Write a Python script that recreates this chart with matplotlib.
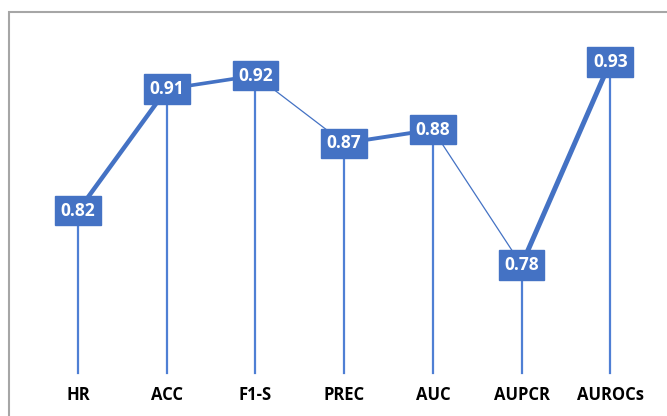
import matplotlib.pyplot as plt
from matplotlib.patches import Rectangle

metrics = ["HR", "ACC", "F1-S", "PREC", "AUC", "AUPCR", "AUROCs"]
scores = [0.82, 0.91, 0.92, 0.87, 0.88, 0.78, 0.93]

BLUE = "#4472C4"
BASE = 0.70
# stroke width of each connecting segment
seg_widths = [3.2, 2.6, 0.9, 2.8, 0.9, 3.6]

fig = plt.figure(figsize=(6.67, 4.16), dpi=100)
ax = fig.add_axes([0, 0, 1, 1])
ax.set_xlim(-0.88, 6.64)
ax.set_ylim(0.6684, 0.9758)
ax.axis("off")

# outer frame, open to the right and bottom
fig.patches.append(Rectangle((9 / 667, -0.1), 1.2, 1.1 - 12 / 416,
                             transform=fig.transFigure, fill=False,
                             edgecolor="#A6A6A6", linewidth=1.5))

x = list(range(len(metrics)))

# drop lines
for xi, s in zip(x, scores):
    ax.plot([xi, xi], [BASE, s], color="#4F7FD4", linewidth=1.6, zorder=1)

# connecting segments
for i, w in enumerate(seg_widths):
    ax.plot(x[i:i + 2], scores[i:i + 2], color=BLUE, linewidth=w,
            solid_capstyle="round", zorder=2)

# value boxes
for xi, s in zip(x, scores):
    ax.text(xi, s, f"{s:.2f}", ha="center", va="center", color="white",
            fontsize=12.5, fontweight="bold", family="Open Sans", zorder=3,
            bbox=dict(boxstyle="square,pad=0.32", facecolor=BLUE,
                      edgecolor=BLUE))

# category labels
for xi, m in zip(x, metrics):
    ax.text(xi, 0.684, m, ha="center", va="center", color="black",
            fontsize=12, fontweight="bold", family="Open Sans")

fig.savefig("out.png", dpi=100)
